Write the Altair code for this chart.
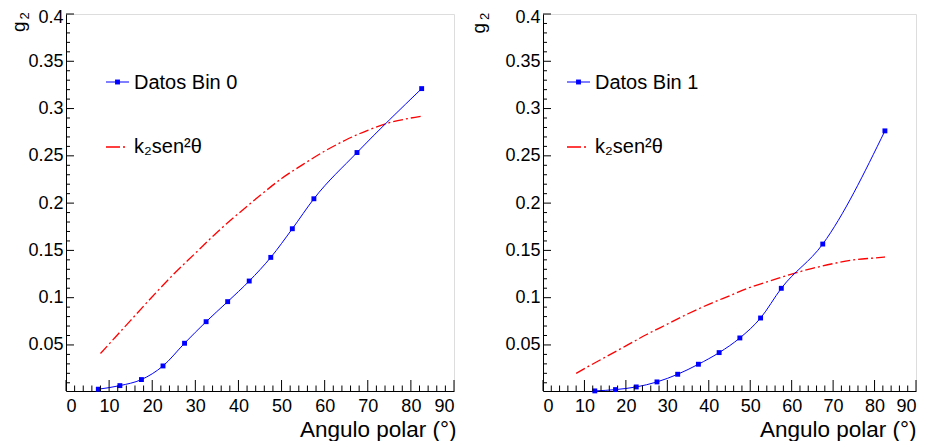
import altair as alt
import pandas as pd

# ---------------- data ----------------
theta_bin0 = [7.5, 12.5, 17.5, 22.5, 27.5, 32.5, 37.5, 42.5, 47.5, 52.5, 57.5, 67.5, 82.5]
g2_bin0 = [0.0032, 0.0070, 0.0134, 0.0278, 0.0518, 0.0746, 0.0958, 0.1176, 0.1426, 0.1729, 0.2046, 0.2535, 0.3211]

theta_bin1 = [12.5, 17.5, 22.5, 27.5, 32.5, 37.5, 42.5, 47.5, 52.5, 57.5, 67.5, 82.5]
g2_bin1 = [0.0014, 0.0028, 0.0056, 0.0109, 0.0190, 0.0296, 0.0419, 0.0574, 0.0785, 0.1099, 0.1567, 0.2764]

curve_theta = [8, 10, 15, 20, 25, 30, 35, 40, 45, 50, 55, 60, 65, 70, 75, 80, 82.5]
fit_bin0 = [0.041, 0.051, 0.076, 0.101, 0.125, 0.147, 0.169, 0.189, 0.208, 0.226, 0.241, 0.255, 0.267, 0.277, 0.285, 0.290, 0.292]
fit_bin1 = [0.020, 0.025, 0.037, 0.049, 0.061, 0.072, 0.083, 0.093, 0.102, 0.111, 0.118, 0.125, 0.131, 0.136, 0.140, 0.142, 0.143]

x_major = [0, 10, 20, 30, 40, 50, 60, 70, 80, 90]
x_minor = [v for v in range(2, 90, 2) if v % 10 != 0]
y_major = [0.05, 0.1, 0.15, 0.2, 0.25, 0.3, 0.35, 0.4]
y_minor = [0.01, 0.02, 0.03, 0.04, 0.06, 0.07, 0.08, 0.09, 0.11, 0.12, 0.13, 0.14,
           0.16, 0.17, 0.18, 0.19, 0.21, 0.22, 0.23, 0.24, 0.26, 0.27, 0.28, 0.29,
           0.31, 0.32, 0.33, 0.34, 0.36, 0.37, 0.38, 0.39]

legend_data = ["Datos Bin 0", "Datos Bin 1"]
legend_fit = "k₂sen²θ"
x_title = "Angulo polar (°)"
y_title_main = "g"
y_title_sub = "2"

FONT = "Liberation Sans"
H = 377
BLUE = "#0000ff"
RED = "#ff0000"
DASH = [10, 3, 2, 3]


def panel(px, py, fit, label, W, gx, gy, sx, sy, lx, ext, tx):
    xs = alt.Scale(domain=[0, 90], nice=False, zero=False)
    ys = alt.Scale(domain=[0.0013, 0.4], nice=False, zero=False)
    df_pts = pd.DataFrame({"theta": px, "g2": py})
    df_fit = pd.DataFrame({"theta": curve_theta, "g2": fit})
    one = pd.DataFrame({"label": [label], "fit": [legend_fit],
                        "yt": [y_title_main], "ys": [y_title_sub]})

    xaxis = alt.Axis(values=x_major, format="d", ticks=False, tickSize=0, grid=False,
                     title=x_title, titleX=W + tx, titleY=45, titleAlign="right",
                     titleBaseline="alphabetic", titleFontSize=22.5, titleFont=FONT,
                     titleFontWeight="normal", titleColor="black",
                     labelFontSize=18, labelFont=FONT, labelColor="black", labelPadding=6,
                     domainColor="black", domainWidth=1)
    yaxis = alt.Axis(values=y_major, format="~g", ticks=False, tickSize=0, grid=False,
                     title=None, labelFontSize=18, labelFont=FONT, labelColor="black",
                     labelPadding=3, minExtent=ext, maxExtent=ext,
                     labelOffset={"condition": {"test": "datum.value >= 0.39", "value": 3},
                                  "value": 0},
                     domainColor="black", domainWidth=1)

    fit_line = alt.Chart(df_fit).mark_line(
        color=RED, strokeWidth=1.3, strokeDash=DASH, interpolate="monotone"
    ).encode(x=alt.X("theta:Q", scale=xs, axis=xaxis),
             y=alt.Y("g2:Q", scale=ys, axis=yaxis))

    data_line = alt.Chart(df_pts).mark_line(
        color=BLUE, strokeWidth=1, interpolate="monotone"
    ).encode(x="theta:Q", y="g2:Q")

    pts = alt.Chart(df_pts).mark_square(size=24, color=BLUE, opacity=1).encode(
        x="theta:Q", y="g2:Q")

    xmaj = alt.Chart(pd.DataFrame({"theta": x_major})).mark_rule(color="black", strokeWidth=1).encode(
        x="theta:Q", y=alt.value(H), y2=alt.value(H - 11))
    xmin = alt.Chart(pd.DataFrame({"theta": x_minor})).mark_rule(color="black", strokeWidth=1).encode(
        x="theta:Q", y=alt.value(H), y2=alt.value(H - 5.5))
    ymaj = alt.Chart(pd.DataFrame({"g2": y_major})).mark_rule(color="black", strokeWidth=1).encode(
        y="g2:Q", x=alt.value(0), x2=alt.value(8))
    ymin = alt.Chart(pd.DataFrame({"g2": y_minor})).mark_rule(color="black", strokeWidth=1).encode(
        y="g2:Q", x=alt.value(0), x2=alt.value(4))

    base = alt.Chart(one)
    leg1_line = base.mark_rule(color=BLUE, strokeWidth=1).encode(
        x=alt.value(lx), x2=alt.value(lx + 23), y=alt.value(68))
    leg1_pt = base.mark_square(size=24, color=BLUE, opacity=1).encode(
        x=alt.value(lx + 11.5), y=alt.value(68))
    leg1_txt = base.mark_text(align="left", baseline="middle", fontSize=20, font=FONT,
                              color="black").encode(
        x=alt.value(lx + 28), y=alt.value(69), text="label:N")
    leg2_line = base.mark_rule(color=RED, strokeWidth=1.3, strokeDash=[14, 3, 2, 4]).encode(
        x=alt.value(lx), x2=alt.value(lx + 23), y=alt.value(133))
    leg2_txt = base.mark_text(align="left", baseline="middle", fontSize=20, font=FONT,
                              color="black").encode(
        x=alt.value(lx + 28), y=alt.value(133), text="fit:N")
    ytitle = base.mark_text(align="left", baseline="middle", angle=270, fontSize=19,
                            font=FONT, color="black").encode(
        x=alt.value(gx), y=alt.value(gy), text="yt:N")
    ysub = base.mark_text(align="left", baseline="middle", angle=270, fontSize=13,
                          font=FONT, color="black").encode(
        x=alt.value(sx), y=alt.value(sy), text="ys:N")

    return alt.layer(fit_line, data_line, pts, xmaj, xmin, ymaj, ymin,
                     leg1_line, leg1_pt, leg1_txt, leg2_line, leg2_txt, ytitle, ysub
                     ).properties(width=W, height=H)


left = panel(theta_bin0, g2_bin0, fit_bin0, legend_data[0], 388,
             -47.5, 18, -41, 5.5, 40, 57, 2)
right = panel(theta_bin1, g2_bin1, fit_bin1, legend_data[1], 373,
              -64, 19.5, -57.7, 6, 24, 75, 0)

chart = alt.hconcat(left, right, spacing=10).properties(
    padding={"left": 0, "top": -1, "right": 0, "bottom": 0}
).configure_view(stroke="black", strokeWidth=1).configure(background="white")

chart.save("out.html", embed_options={"renderer": "svg", "actions": False})
